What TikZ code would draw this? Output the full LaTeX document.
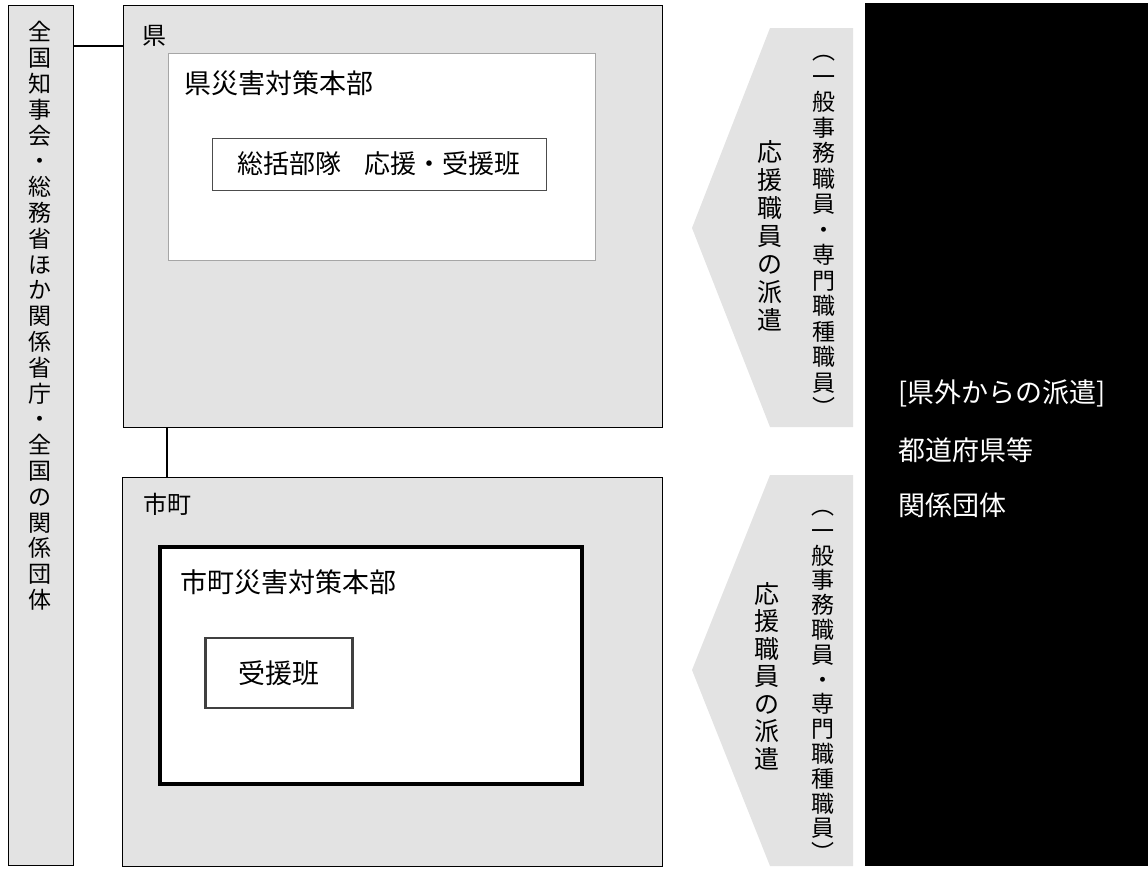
\documentclass[tikz,border=0pt]{standalone}
\usepackage{fontspec}
\setmainfont{Noto Sans CJK JP}
\usetikzlibrary{positioning}

\begin{document}
\begin{tikzpicture}[x=1pt,y=-1pt]
\tikzset{
    zone/.style={%
        draw=black, thin,
        fill=gray!22,
        anchor=north west,
        inner sep=0pt
        },
    honbu/.style={%
        draw=gray!70, thin,
        fill=white,
        anchor=north west,
        inner sep=0pt
        },
    han/.style={%
        draw=black!70, thin,
        fill=white,
        inner sep=0pt,
        font=\fontsize{27}{29}\selectfont
        },
    txt/.style={%
        inner sep=0pt,
        font=\fontsize{27}{29}\selectfont
        },
    lbl/.style={%
        inner sep=0pt,
        font=\fontsize{24}{26}\selectfont
        },
    tate/.style={%
        inner sep=0pt,
        align=center
        },
    link/.style={%
        draw=black, line width=1.3pt
        },
}
\useasboundingbox (0,0) rectangle (1148,870);
%%%LEFT: NATIONAL BODIES
\node[zone, minimum width=65pt, minimum height=860pt] (zenkoku) at (8,5) {};
\node[tate, font=\fontsize{23}{25.8}\selectfont] (zenkokutxt) at (40,316)
    {全\\国\\知\\事\\会\\・\\総\\務\\省\\ほ\\か\\関\\係\\省\\庁\\・\\全\\国\\の\\関\\係\\団\\体};
%%%PREFECTURE
\node[zone, minimum width=539pt, minimum height=422pt] (ken) at (123,5) {};
\node[lbl] (kenlbl) at (154,36) {県};
\node[honbu, minimum width=427pt, minimum height=207pt] (kenhonbu) at (168,53) {};
\node[txt, anchor=west] (kenhonbutxt) at (184,83) {県災害対策本部};
\node[han, font=\fontsize{26}{28}\selectfont, minimum width=334pt, minimum height=52pt] (soukatsu) at (379,164)
    {総括部隊\hspace{0.9em}応援・受援班};
%%%MUNICIPALITY
\node[zone, minimum width=540pt, minimum height=389pt] (shicho) at (122,477) {};
\node[lbl] (shicholbl) at (167,504) {市町};
\node[honbu, draw=black, line width=4pt, minimum width=422pt, minimum height=237pt] (shichohonbu) at (158,545) {};
\node[txt, anchor=west] (shichohonbutxt) at (180,582) {市町災害対策本部};
\node[han, draw=black!75, line width=2.5pt, minimum width=147pt, minimum height=70pt] (juen) at (279,673) {受援班};
%%%LINKS
\draw[link] (zenkoku.east |- 0,46) -- (ken.west |- 0,46);
\draw[link, line width=2.5pt] (ken.south -| 167,0) -- (shicho.north -| 167,0);
%%%DISPATCH ARROWS
\fill[gray!22] (770,28) -- (853,28) -- (853,427) -- (770,427) -- (692,228) -- cycle;
\fill[gray!22] (770,475) -- (853,475) -- (853,866) -- (770,866) -- (692,670) -- cycle;
\node[tate, font=\fontsize{25}{28}\selectfont] (haken1) at (770,236)
    {応\\援\\職\\員\\の\\派\\遣};
\node[tate, font=\fontsize{23}{25.5}\selectfont] (shokuin1) at (824,236)
    {︵\\一\\般\\事\\務\\職\\員\\・\\専\\門\\職\\種\\職\\員\\︶};
\node[tate, font=\fontsize{25}{27.5}\selectfont] (haken2) at (767,676)
    {応\\援\\職\\員\\の\\派\\遣};
\node[tate, font=\fontsize{23}{24.8}\selectfont] (shokuin2) at (823,686)
    {︵\\一\\般\\事\\務\\職\\員\\・\\専\\門\\職\\種\\職\\員\\︶};
%%%OUTSIDE THE PREFECTURE
\node[fill=black, anchor=north west, inner sep=0pt, minimum width=283pt, minimum height=863pt] (kengai) at (865,3) {};
\node[txt, text=white, anchor=west] (kengai1) at (898,393) {[県外からの派遣]};
\node[txt, text=white, anchor=west] (kengai2) at (898,450) {都道府県等};
\node[txt, text=white, anchor=west] (kengai3) at (898,505) {関係団体};
\end{tikzpicture}
\end{document}
